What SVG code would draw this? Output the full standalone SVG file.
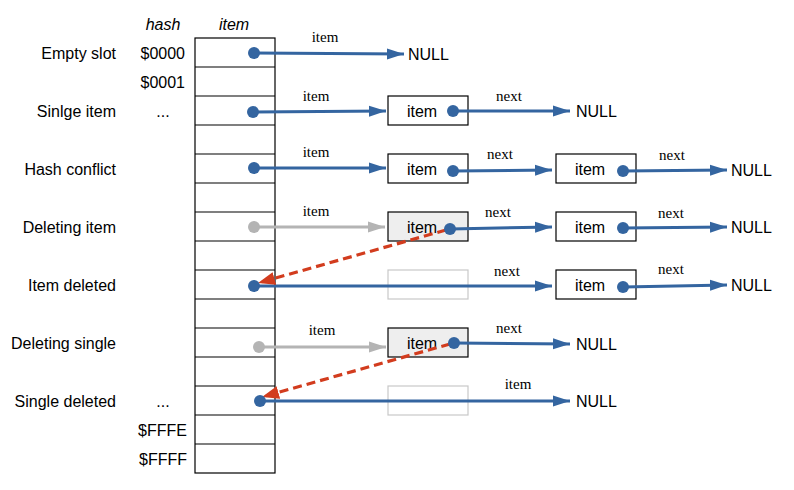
<svg xmlns="http://www.w3.org/2000/svg" width="794" height="490" viewBox="0 0 794 490">
<style>
.lbl{font-family:"Liberation Sans",Arial,sans-serif;font-size:16px;fill:#000}
.r{text-anchor:end}
.c{text-anchor:middle}
.hdr{font-family:"Liberation Sans",Arial,sans-serif;font-size:16px;font-style:italic;text-anchor:middle}
.ser{font-family:"Liberation Serif","Times New Roman",serif;font-size:15px;text-anchor:middle;fill:#000}
.cell{fill:#fff;stroke:#000;stroke-width:1.2}
.box{fill:#fff;stroke:#000;stroke-width:1.2}
.boxg{fill:#eee;stroke:#000;stroke-width:1.2}
.ghost{fill:none;stroke:#c8c8c8;stroke-width:1.2}
.blue{stroke:#3465a0;stroke-width:3;fill:none;marker-end:url(#ab)}
.gray{stroke:#b4b4b4;stroke-width:3;fill:none;marker-end:url(#ag)}
.red{stroke:#d23c1e;stroke-width:3.2;fill:none;stroke-dasharray:9 5;marker-end:url(#ar)}
.dot{fill:#3465a0}
.dotg{fill:#b4b4b4}
</style>
<defs>
<marker id="ab" markerUnits="userSpaceOnUse" markerWidth="18" markerHeight="12" refX="17" refY="6" orient="auto"><path d="M0,0.5 L17,6 L0,11.5 Z" fill="#3465a0"/></marker>
<marker id="ag" markerUnits="userSpaceOnUse" markerWidth="18" markerHeight="12" refX="17" refY="6" orient="auto"><path d="M0,0.5 L17,6 L0,11.5 Z" fill="#b4b4b4"/></marker>
<marker id="ar" markerUnits="userSpaceOnUse" markerWidth="18" markerHeight="14" refX="17" refY="7" orient="auto"><path d="M0,0.5 L17,7 L0,13.5 Z" fill="#d23c1e"/></marker>
</defs>
<rect width="794" height="490" fill="#fff"/>

<g id="headers">
<text class="hdr" x="163" y="30">hash</text>
<text class="hdr" x="234" y="30">item</text>
</g>

<g id="table">
<rect class="cell" x="195" y="38" width="80" height="435"/>
<path d="M195,67H275M195,96H275M195,125H275M195,154H275M195,183H275M195,212H275M195,241H275M195,270H275M195,299H275M195,328H275M195,357H275M195,386H275M195,415H275M195,444H275" stroke="#000" stroke-width="1.2"/>
</g>

<g id="hashlabels">
<text class="lbl r" x="185" y="59">$0000</text>
<text class="lbl r" x="185" y="88">$0001</text>
<text class="lbl c" x="163" y="117">...</text>
<text class="lbl c" x="163" y="407">...</text>
<text class="lbl r" x="187" y="436">$FFFE</text>
<text class="lbl r" x="187" y="465">$FFFF</text>
</g>

<g id="rowlabels">
<text class="lbl r" x="116" y="59">Empty slot</text>
<text class="lbl r" x="116" y="117">Sinlge item</text>
<text class="lbl r" x="116" y="175">Hash conflict</text>
<text class="lbl r" x="116" y="233">Deleting item</text>
<text class="lbl r" x="116" y="291">Item deleted</text>
<text class="lbl r" x="116" y="349">Deleting single</text>
<text class="lbl r" x="116" y="407">Single deleted</text>
</g>

<g id="node-r2a"><rect class="box" x="388" y="96" width="80" height="29"/><text class="lbl c" x="422" y="117">item</text></g>
<g id="node-r4a"><rect class="box" x="388" y="154" width="80" height="29"/><text class="lbl c" x="422" y="175">item</text></g>
<g id="node-r4b"><rect class="box" x="556" y="154" width="80" height="29"/><text class="lbl c" x="590" y="175">item</text></g>
<g id="node-r6a"><rect class="boxg" x="388" y="212" width="80" height="29"/><text class="lbl c" x="422" y="233">item</text></g>
<g id="node-r6b"><rect class="box" x="556" y="212" width="80" height="29"/><text class="lbl c" x="590" y="233">item</text></g>
<g id="node-r8a"><rect class="ghost" x="388" y="270" width="80" height="29"/></g>
<g id="node-r8b"><rect class="box" x="556" y="270" width="80" height="29"/><text class="lbl c" x="590" y="291">item</text></g>
<g id="node-r10a"><rect class="boxg" x="388" y="328" width="80" height="29"/><text class="lbl c" x="422" y="349">item</text></g>
<g id="node-r12a"><rect class="ghost" x="388" y="386" width="80" height="29"/></g>

<g id="nulls">
<text class="lbl" x="408" y="60">NULL</text>
<text class="lbl" x="576" y="117">NULL</text>
<text class="lbl" x="731" y="176">NULL</text>
<text class="lbl" x="731" y="233">NULL</text>
<text class="lbl" x="731" y="291">NULL</text>
<text class="lbl" x="576" y="350">NULL</text>
<text class="lbl" x="576" y="407">NULL</text>
</g>

<g id="connectors">
<path class="blue" d="M254,53 L404,54"/>
<path class="blue" d="M253,112 L386,111"/>
<path class="blue" d="M453,111 L570,111"/>
<path class="blue" d="M254,168 L386,168"/>
<path class="blue" d="M453,171 L552,170"/>
<path class="blue" d="M623,171 L727,170"/>
<path class="gray" d="M254,227 L385,227"/>
<path class="blue" d="M450,229 L552,227"/>
<path class="blue" d="M623,228 L727,227"/>
<path class="blue" d="M254,286 L552,286"/>
<path class="blue" d="M623,287 L727,285"/>
<path class="gray" d="M259,347 L386,347"/>
<path class="blue" d="M454,343 L570,344"/>
<path class="blue" d="M260,401 L570,401"/>
<path class="red" d="M446,230 L258,283"/>
<path class="red" d="M450,344 L262,397"/>
<circle class="dot" cx="254" cy="53" r="6"/>
<circle class="dot" cx="253" cy="112" r="6"/>
<circle class="dot" cx="453" cy="111" r="6"/>
<circle class="dot" cx="254" cy="168" r="6"/>
<circle class="dot" cx="453" cy="171" r="6"/>
<circle class="dot" cx="623" cy="171" r="6"/>
<circle class="dotg" cx="254" cy="227" r="6"/>
<circle class="dot" cx="450" cy="229" r="6"/>
<circle class="dot" cx="623" cy="228" r="6"/>
<circle class="dot" cx="254" cy="286" r="6"/>
<circle class="dot" cx="623" cy="287" r="6"/>
<circle class="dotg" cx="259" cy="347" r="6"/>
<circle class="dot" cx="454" cy="343" r="6"/>
<circle class="dot" cx="260" cy="401" r="6"/>
<text class="ser" x="325" y="42">item</text>
<text class="ser" x="316" y="101">item</text>
<text class="ser" x="509" y="101">next</text>
<text class="ser" x="316" y="157">item</text>
<text class="ser" x="500" y="159">next</text>
<text class="ser" x="672" y="160">next</text>
<text class="ser" x="316" y="216">item</text>
<text class="ser" x="498" y="217">next</text>
<text class="ser" x="671" y="218">next</text>
<text class="ser" x="507" y="276">next</text>
<text class="ser" x="671" y="274">next</text>
<text class="ser" x="322" y="335">item</text>
<text class="ser" x="509" y="333">next</text>
<text class="ser" x="518" y="389">item</text>
</g>
</svg>
